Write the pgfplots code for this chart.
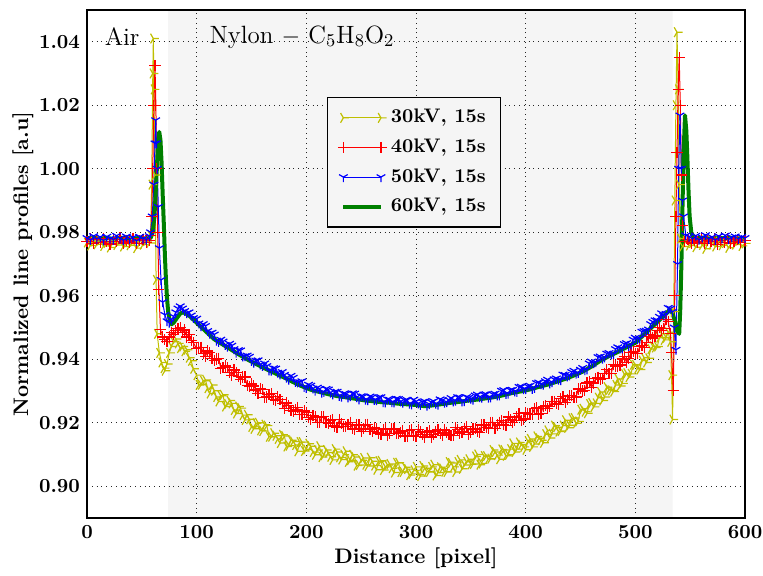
\documentclass[border=0pt]{standalone}
\usepackage{pgfplots}
\pgfplotsset{compat=1.18}
\pgfdeclareplotmark{triright}{%
  \pgfpathmoveto{\pgfqpoint{\pgfplotmarksize}{0pt}}%
  \pgfpathlineto{\pgfpointorigin}%
  \pgfpathlineto{\pgfqpoint{-0.5\pgfplotmarksize}{0.866\pgfplotmarksize}}%
  \pgfpathmoveto{\pgfpointorigin}%
  \pgfpathlineto{\pgfqpoint{-0.5\pgfplotmarksize}{-0.866\pgfplotmarksize}}%
  \pgfusepathqstroke}
\pgfdeclareplotmark{tridown}{%
  \pgfpathmoveto{\pgfqpoint{0pt}{-\pgfplotmarksize}}%
  \pgfpathlineto{\pgfpointorigin}%
  \pgfpathlineto{\pgfqpoint{0.866\pgfplotmarksize}{0.5\pgfplotmarksize}}%
  \pgfpathmoveto{\pgfpointorigin}%
  \pgfpathlineto{\pgfqpoint{-0.866\pgfplotmarksize}{0.5\pgfplotmarksize}}%
  \pgfusepathqstroke}
\definecolor{myyellow}{rgb}{0.75,0.75,0}
\definecolor{myred}{rgb}{1,0,0}
\definecolor{myblue}{rgb}{0,0,1}
\definecolor{mygreen}{rgb}{0,0.5,0}
\definecolor{shade}{gray}{0.961}
\begin{document}
\begin{tikzpicture}
\begin{axis}[
  axis on top,
  at={(0,0)}, anchor=south west,
  scale only axis, width=329pt, height=254pt,
  xmin=0, xmax=600, ymin=0.89, ymax=1.05,
  xtick={0,100,200,300,400,500,600},
  ytick={0.90,0.92,0.94,0.96,0.98,1.00,1.02,1.04},
  major tick length=0pt,
  axis line style={black, line width=0.8pt},
  grid=major,
  grid style={dotted, black!85, line width=0.5pt},
  /pgf/number format/assume math mode=true,
  ticklabel style={font=\bfseries\fontsize{10}{12}\selectfont},
  yticklabel style={/pgf/number format/.cd, fixed, fixed zerofill, precision=2},
  xticklabel style={/pgf/number format/.cd, fixed, precision=0},
  xlabel={Distance [pixel]},
  ylabel={Normalized line profiles [a.u]},
  xlabel style={font=\bfseries\fontsize{10.5}{12}\selectfont, at={(axis description cs:0.5,-0.0787)}, anchor=center},
  ylabel style={font=\bfseries\fontsize{10.5}{12}\selectfont, at={(axis description cs:-0.0973,0.5)}, anchor=center, rotate=0},
  legend style={at={(axis description cs:0.365,0.829)}, anchor=north west,
    fill=shade, draw, line width=0.6pt,
    font=\bfseries\fontsize{9.8}{11}\selectfont,
    inner xsep=5pt, inner ysep=3.5pt, row sep=1.4pt,
    nodes={text height=7pt, text depth=2pt, inner sep=2.2pt}},
  legend cell align=left,
  legend image code/.code={%
    \draw[#1, mark=none] (0pt,0pt) -- (18.8pt,0pt);
    \draw[#1, only marks] plot coordinates {(0pt,0pt) (18.8pt,0pt)};
    \path (20.5pt,0pt);},
]
\addplot[fill=shade, draw=none, forget plot] coordinates {(74,0.89) (534,0.89) (534,1.05) (74,1.05)} \closedcycle;

% 30kV
\addplot[color=myyellow, draw=myyellow, line width=0.5pt, mark=triright, mark size=2.8pt, mark options={solid, draw=myyellow, line width=0.6pt}] coordinates {
(0,.9768)(3,.9758)(6,.9771)(9,.9762)(12,.9774)(15,.9757)(18,.9766)(21,.9752)(24,.9769)(27,.9760)(30,.9773)(33,.9755)(36,.9767)(39,.9759)(42,.9770)(45,.9750)(48,.9765)(51,.9761)(54,.9772)(57,.9766)
(58,.9790)(59,.9950)(60,1.0300)(60.5,1.0410)(61,1.0250)(62,.9980)(63,.9650)(64,.9480)(66,.9420)(68,.9390)(70,.9372)(71,.9364)(73,.9385)(75,.9420)(77,.9440)(79,.9455)(81,.9464)(83,.9450)(85,.9435)(87,.9440)(89,.9425)(91,.9430)(93,.9405)(95,.9395)(97,.9370)
(100,.9350)(102,.9319)(104,.9320)(106,.9332)(108,.9335)(110,.9309)(112,.9292)(114,.9319)(116,.9301)(118,.9281)(120,.9267)(122,.9285)(124,.9288)(126,.9251)(128,.9259)(130,.9270)(132,.9261)(134,.9240)(136,.9229)(138,.9251)
(140,.9246)(142,.9224)(144,.9209)(146,.9225)(148,.9211)(150,.9187)(152,.9181)(154,.9198)(156,.9200)(158,.9176)(160,.9174)(162,.9194)(164,.9191)(166,.9156)(168,.9156)(170,.9167)(172,.9159)(174,.9149)(176,.9136)(178,.9162)
(180,.9158)(182,.9125)(184,.9128)(186,.9145)(188,.9141)(190,.9130)(192,.9110)(194,.9139)(196,.9139)(198,.9111)(200,.9116)(202,.9134)(204,.9126)(206,.9108)(208,.9099)(210,.9114)(212,.9126)(214,.9092)(216,.9098)(218,.9114)
(220,.9106)(222,.9093)(224,.9083)(226,.9117)(228,.9108)(230,.9091)(232,.9084)(234,.9099)(236,.9110)(238,.9077)(240,.9082)(242,.9099)(244,.9092)(246,.9065)(248,.9067)(250,.9082)(252,.9089)(254,.9068)(256,.9064)(258,.9090)
(260,.9079)(262,.9065)(264,.9052)(266,.9079)(268,.9080)(270,.9051)(272,.9061)(274,.9067)(276,.9070)(278,.9057)(280,.9043)(282,.9074)(284,.9074)(286,.9045)(288,.9045)(290,.9060)(292,.9054)(294,.9035)(296,.9039)(298,.9050)
(300,.9061)(302,.9037)(304,.9032)(306,.9064)(308,.9057)(310,.9046)(312,.9045)(314,.9061)(316,.9068)(318,.9034)(320,.9043)(322,.9060)(324,.9056)(326,.9046)(328,.9045)(330,.9076)(332,.9073)(334,.9061)(336,.9045)(338,.9076)
(340,.9083)(342,.9055)(344,.9067)(346,.9077)(348,.9085)(350,.9069)(352,.9070)(354,.9094)(356,.9100)(358,.9068)(360,.9072)(362,.9095)(364,.9095)(366,.9086)(368,.9087)(370,.9114)(372,.9108)(374,.9098)(376,.9085)(378,.9116)
(380,.9114)(382,.9096)(384,.9099)(386,.9117)(388,.9135)(390,.9108)(392,.9117)(394,.9138)(396,.9131)(398,.9124)(400,.9115)(402,.9142)(404,.9149)(406,.9124)(408,.9133)(410,.9157)(412,.9151)(414,.9145)(416,.9137)(418,.9164)
(420,.9176)(422,.9152)(424,.9165)(426,.9191)(428,.9186)(430,.9172)(432,.9174)(434,.9191)(436,.9208)(438,.9184)(440,.9192)(442,.9214)(444,.9215)(446,.9198)(448,.9204)(450,.9241)(452,.9244)(454,.9235)(456,.9230)(458,.9259)
(460,.9262)(462,.9250)(464,.9261)(466,.9279)(468,.9297)(470,.9270)(472,.9281)(474,.9312)(476,.9304)(478,.9302)(480,.9298)(482,.9319)(484,.9338)(486,.9316)(488,.9324)(490,.9353)(492,.9356)(494,.9344)(496,.9354)(498,.9383)
(500,.9382)(502,.9371)(504,.9368)(506,.9396)(508,.9405)(510,.9390)(512,.9403)(514,.9432)(516,.9441)(518,.9437)(520,.9440)(522,.9468)(524,.9480)(526,.9461)(528,.9468)
(530,.9485)(532,.9455)(533,.9350)(534,.9210)(535,.9550)(536,.9900)(537,1.0200)(538,1.0430)(539,1.0250)(540,.9950)(541,.9780)(543,.9755)
(546,.9772)(549,.9758)(552,.9766)(555,.9753)(558,.9769)(561,.9760)(564,.9748)(567,.9770)(570,.9762)(573,.9755)(576,.9771)(579,.9759)(582,.9766)(585,.9751)(588,.9768)(591,.9761)(594,.9773)(597,.9757)(600,.9765)
};
\addlegendentry{30kV, 15s}

% 40kV
\addplot[color=myred, draw=myred, line width=0.5pt, mark=+, mark size=2.8pt, mark options={solid, draw=myred, line width=0.6pt}] coordinates {
(0,.9772)(3,.9779)(6,.9765)(9,.9776)(12,.9768)(15,.9781)(18,.9770)(21,.9763)(24,.9777)(27,.9771)(30,.9784)(33,.9766)(36,.9775)(39,.9769)(42,.9780)(45,.9764)(48,.9773)(51,.9778)(54,.9767)(57,.9775)
(58,.9790)(59,.9850)(60,1.0000)(61,1.0200)(62,1.0325)(62.8,1.0200)(63.5,1.0000)(64.5,.9800)(65.5,.9620)(67,.9494)(69,.9470)(71,.9462)(73,.9457)(75,.9470)(77,.9483)(79,.9478)(81,.9490)(83,.9496)(85,.9499)(87,.9485)(89,.9492)(91,.9470)(93,.9478)(95,.9460)(97,.9452)
(100,.9433)(102,.9438)(104,.9438)(106,.9419)(108,.9409)(110,.9426)(112,.9421)(114,.9402)(116,.9397)(118,.9401)(120,.9403)(122,.9372)(124,.9373)(126,.9379)(128,.9374)(130,.9357)(132,.9349)(134,.9366)(136,.9358)(138,.9345)
(140,.9336)(142,.9344)(144,.9344)(146,.9317)(148,.9313)(150,.9322)(152,.9316)(154,.9303)(156,.9291)(158,.9309)(160,.9304)(162,.9279)(164,.9281)(166,.9289)(168,.9291)(170,.9272)(172,.9271)(174,.9282)(176,.9272)(178,.9261)
(180,.9246)(182,.9262)(184,.9255)(186,.9238)(188,.9235)(190,.9242)(192,.9249)(194,.9226)(196,.9225)(198,.9237)(200,.9232)(202,.9217)(204,.9209)(206,.9223)(208,.9218)(210,.9202)(212,.9200)(214,.9218)(216,.9220)(218,.9201)
(220,.9198)(222,.9207)(224,.9209)(226,.9190)(228,.9185)(230,.9209)(232,.9197)(234,.9189)(236,.9187)(238,.9194)(240,.9202)(242,.9182)(244,.9179)(246,.9194)(248,.9193)(250,.9173)(252,.9182)(254,.9193)(256,.9195)(258,.9179)
(260,.9172)(262,.9186)(264,.9181)(266,.9168)(268,.9163)(270,.9178)(272,.9182)(274,.9161)(276,.9166)(278,.9182)(280,.9180)(282,.9165)(284,.9165)(286,.9169)(288,.9174)(290,.9158)(292,.9156)(294,.9175)(296,.9178)(298,.9160)
(300,.9157)(302,.9179)(304,.9171)(306,.9162)(308,.9153)(310,.9169)(312,.9174)(314,.9155)(316,.9163)(318,.9173)(320,.9178)(322,.9166)(324,.9160)(326,.9177)(328,.9170)(330,.9162)(332,.9159)(334,.9160)(336,.9184)(338,.9178)
(340,.9166)(342,.9171)(344,.9183)(346,.9187)(348,.9163)(350,.9169)(352,.9180)(354,.9183)(356,.9172)(358,.9169)(360,.9193)(362,.9193)(364,.9185)(366,.9183)(368,.9201)(370,.9202)(372,.9181)(374,.9193)(376,.9202)(378,.9206)
(380,.9195)(382,.9192)(384,.9218)(386,.9210)(388,.9200)(390,.9206)(392,.9218)(394,.9229)(396,.9208)(398,.9212)(400,.9231)(402,.9230)(404,.9225)(406,.9227)(408,.9245)(410,.9247)(412,.9226)(414,.9230)(416,.9252)(418,.9254)
(420,.9244)(422,.9252)(424,.9268)(426,.9267)(428,.9260)(430,.9257)(432,.9277)(434,.9282)(436,.9263)(438,.9273)(440,.9285)(442,.9286)(444,.9280)(446,.9281)(448,.9306)(450,.9307)(452,.9300)(454,.9302)(456,.9325)(458,.9330)
(460,.9310)(462,.9325)(464,.9339)(466,.9343)(468,.9336)(470,.9340)(472,.9356)(474,.9367)(476,.9354)(478,.9355)(480,.9384)(482,.9379)(484,.9378)(486,.9382)(488,.9401)(490,.9409)(492,.9389)(494,.9402)(496,.9421)(498,.9424)
(500,.9419)(502,.9417)(504,.9440)(506,.9444)(508,.9437)(510,.9452)(512,.9472)(514,.9479)(516,.9467)(518,.9473)(520,.9491)(522,.9500)(524,.9490)(526,.9497)(528,.9524)
(530,.9518)(532,.9480)(533,.9420)(534.6,.9301)(536,.9600)(537,.9850)(538,1.0050)(539,1.0250)(540,1.0350)(541,1.0200)(542,.9980)(543,.9820)
(545,.9772)(548,.9778)(551,.9766)(554,.9775)(557,.9769)(560,.9781)(563,.9764)(566,.9773)(569,.9770)(572,.9779)(575,.9762)(578,.9774)(581,.9768)(584,.9780)(587,.9765)(590,.9772)(593,.9777)(596,.9767)(600,.9774)
};
\addlegendentry{40kV, 15s}

% 50kV
\addplot[color=myblue, draw=myblue, line width=0.5pt, mark=tridown, mark size=2.5pt, mark options={solid, draw=myblue, line width=0.6pt}] coordinates {
(0,.9782)(3,.9776)(6,.9788)(9,.9779)(12,.9785)(15,.9774)(18,.9786)(21,.9780)(24,.9777)(27,.9789)(30,.9781)(33,.9775)(36,.9787)(39,.9779)(42,.9784)(45,.9773)(48,.9786)(51,.9780)(54,.9777)(57,.9788)
(58,.9800)(59.5,.9850)(61,.9950)(62,1.0080)(62.6,1.0153)(63.3,1.0080)(64,1.0000)(65,.9880)(66,.9750)(67.5,.9650)(69,.9580)(71,.9540)(73,.9520)(75,.9515)(77,.9525)(79,.9535)(81,.9548)(83,.9560)(85,.9567)(87,.9560)(89,.9552)(91,.9545)(93,.9548)(95,.9538)(97,.9530)
(100,.9528)(102,.9513)(104,.9504)(106,.9511)(108,.9505)(110,.9489)(112,.9481)(114,.9484)(116,.9478)(118,.9459)(120,.9455)(122,.9462)(124,.9456)(126,.9445)(128,.9440)(130,.9449)(132,.9443)(134,.9432)(136,.9421)(138,.9429)
(140,.9428)(142,.9409)(144,.9410)(146,.9412)(148,.9408)(150,.9395)(152,.9389)(154,.9396)(156,.9397)(158,.9384)(160,.9379)(162,.9387)(164,.9379)(166,.9365)(168,.9364)(170,.9372)(172,.9371)(174,.9358)(176,.9352)(178,.9360)
(180,.9351)(182,.9342)(184,.9336)(186,.9348)(188,.9342)(190,.9329)(192,.9327)(194,.9328)(196,.9331)(198,.9313)(200,.9310)(202,.9320)(204,.9317)(206,.9308)(208,.9301)(210,.9311)(212,.9307)(214,.9295)(216,.9297)(218,.9307)
(220,.9305)(222,.9295)(224,.9289)(226,.9298)(228,.9298)(230,.9285)(232,.9282)(234,.9292)(236,.9291)(238,.9280)(240,.9284)(242,.9293)(244,.9292)(246,.9281)(248,.9274)(250,.9284)(252,.9283)(254,.9273)(256,.9271)(258,.9283)
(260,.9281)(262,.9272)(264,.9271)(266,.9280)(268,.9281)(270,.9265)(272,.9264)(274,.9274)(276,.9273)(278,.9265)(280,.9264)(282,.9276)(284,.9275)(286,.9267)(288,.9263)(290,.9271)(292,.9272)(294,.9260)(296,.9258)(298,.9273)
(300,.9267)(302,.9261)(304,.9256)(306,.9266)(308,.9268)(310,.9254)(312,.9259)(314,.9265)(316,.9268)(318,.9260)(320,.9257)(322,.9274)(324,.9271)(326,.9263)(328,.9265)(330,.9272)(332,.9278)(334,.9267)(336,.9270)(338,.9281)
(340,.9280)(342,.9267)(344,.9268)(346,.9281)(348,.9279)(350,.9276)(352,.9273)(354,.9286)(356,.9289)(358,.9281)(360,.9279)(362,.9289)(364,.9290)(366,.9279)(368,.9280)(370,.9290)(372,.9292)(374,.9286)(376,.9286)(378,.9301)
(380,.9303)(382,.9291)(384,.9292)(386,.9303)(388,.9304)(390,.9299)(392,.9297)(394,.9313)(396,.9314)(398,.9306)(400,.9306)(402,.9315)(404,.9317)(406,.9307)(408,.9310)(410,.9325)(412,.9327)(414,.9322)(416,.9320)(418,.9331)
(420,.9336)(422,.9324)(424,.9328)(426,.9337)(428,.9340)(430,.9336)(432,.9334)(434,.9352)(436,.9351)(438,.9346)(440,.9349)(442,.9360)(444,.9364)(446,.9355)(448,.9357)(450,.9367)(452,.9373)(454,.9366)(456,.9368)(458,.9387)
(460,.9393)(462,.9388)(464,.9391)(466,.9407)(468,.9409)(470,.9402)(472,.9406)(474,.9418)(476,.9420)(478,.9415)(480,.9417)(482,.9432)(484,.9438)(486,.9434)(488,.9434)(490,.9448)(492,.9451)(494,.9442)(496,.9447)(498,.9462)
(500,.9468)(502,.9463)(504,.9466)(506,.9487)(508,.9489)(510,.9490)(512,.9494)(514,.9511)(516,.9518)(518,.9523)(520,.9523)(522,.9534)(524,.9545)(526,.9537)(528,.9543)
(530,.9562)(532,.9560)(534,.9550)(535.5,.9500)(537,.9430)(538.5,.9700)(539.5,1.0000)(540.7,1.0168)(542,1.0000)(543,.9900)(544,.9850)(546,.9790)
(549,.9786)(552,.9780)(555,.9789)(558,.9777)(561,.9784)(564,.9791)(567,.9779)(570,.9785)(573,.9776)(576,.9788)(579,.9781)(582,.9790)(585,.9778)(588,.9784)(591,.9787)(594,.9779)(597,.9785)(600,.9782)
};
\addlegendentry{50kV, 15s}

% 60kV
\addplot[color=mygreen, draw=mygreen, line width=2pt, line join=round] coordinates {
(0,.9781)(6,.9783)(12,.9780)(18,.9782)(24,.9779)(30,.9783)(36,.9781)(42,.9780)(48,.9782)(54,.9780)(58,.9782)
(60,.9800)(61.5,.9850)(63,.9950)(64.5,1.0060)(65.9,1.0116)(67,1.0090)(68,1.0020)(69,.9920)(70,.9830)(71,.9730)(72,.9650)(73,.9590)(74,.9550)(75.5,.9520)(77,.9510)(79,.9515)(82,.9530)(85,.9544)(87.7,.9548)(91,.9542)(94,.9535)(97,.9525)
(100,.9515)(108,.9489)(116,.9463)(124,.9446)(132,.9429)(140,.9412)(148,.9396)(156,.9382)(164,.9368)(172,.9355)
(180,.9342)(188,.9328)(196,.9315)(204,.9304)(212,.9297)(220,.9290)(228,.9284)(236,.9280)(244,.9276)(252,.9271)
(260,.9268)(268,.9265)(276,.9263)(284,.9260)(292,.9258)(300,.9256)(308,.9252)(316,.9255)(324,.9259)(332,.9263)
(340,.9266)(348,.9270)(356,.9273)(364,.9277)(372,.9281)(380,.9287)(388,.9294)(396,.9299)(404,.9305)(412,.9313)
(420,.9320)(428,.9329)(436,.9338)(444,.9349)(452,.9361)(460,.9377)(468,.9395)(476,.9410)(484,.9423)(492,.9438)
(500,.9452)(508,.9478)(516,.9504)(524,.9530)(528,.9543)(531.6,.9556)(534,.9545)(536,.9520)(538,.9490)(540,.9480)
(541,.9560)(542,.9700)(543,.9880)(544,1.0050)(545.3,1.0168)(546.5,1.0120)(547.5,1.0030)(548.5,.9930)(549.5,.9850)(551,.9800)(553,.9785)
(556,.9781)(562,.9783)(568,.9780)(574,.9782)(580,.9781)(586,.9783)(592,.9780)(600,.9782)
};
\addlegendentry{60kV, 15s}

\node[font=\fontsize{12.5}{14}\selectfont] at (axis cs:32,1.0415) {Air};
\node[font=\fontsize{12.5}{14}\selectfont] at (axis cs:196,1.0415) {Nylon $-$ C$_5$H$_8$O$_2$};
\end{axis}
\pgfresetboundingbox
\path[use as bounding box] (-43.5pt,-29pt) rectangle (338pt,259pt);
\end{tikzpicture}
\end{document}
